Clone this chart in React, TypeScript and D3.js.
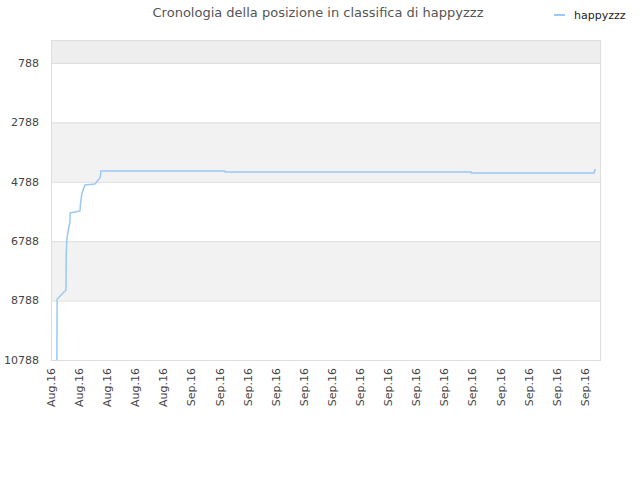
import * as d3 from 'd3'

const title = 'Cronologia della posizione in classifica di happyzzz'
const seriesName = 'happyzzz'

const times = [
  '2016-08-22T10:00', '2016-08-22T10:30', '2016-08-23T01:40', '2016-08-23T02:00',
  '2016-08-23T03:00', '2016-08-23T05:00', '2016-08-23T08:20', '2016-08-23T08:40',
  '2016-08-23T17:00', '2016-08-24T01:30', '2016-08-24T02:30', '2016-08-24T05:00',
  '2016-08-24T10:00', '2016-08-25T03:00', '2016-08-25T11:40', '2016-08-25T13:20',
  '2016-09-03T09:00', '2016-09-03T09:20', '2016-09-20T21:30', '2016-09-20T21:50',
  '2016-09-29T15:30', '2016-09-29T17:10',
]
const ranks = [
  10788, 8734, 8431, 7253, 6748, 6478, 6142, 5838, 5805, 5771, 5500, 5165,
  4896, 4862, 4660, 4424, 4424, 4458, 4458, 4492, 4492, 4357,
]
const yTicks = [788, 2788, 4788, 6788, 8788, 10788]

const width = 640
const height = 480
const margin = { top: 40, right: 40, bottom: 120, left: 51 }
const font = 'DejaVu Sans, sans-serif'

export default function App() {
  const parse = d3.timeParse('%Y-%m-%dT%H:%M')
  const data = times.map((t, i) => ({ t: parse(t) as Date, r: ranks[i] }))

  const x = d3
    .scaleTime()
    .domain([new Date(2016, 7, 22), new Date(2016, 8, 30, 1, 30)])
    .range([margin.left, width - margin.right])
  const y = d3
    .scaleLinear()
    .domain([10788, 14])
    .range([height - margin.bottom, margin.top])

  const xTicks = d3.range(20).map((i) => d3.timeDay.offset(new Date(2016, 7, 22), i * 2))
  const fmt = d3.timeFormat('%b.%y')

  // bands between grid lines, shaded every other one
  const bandEdges = [14, ...yTicks]
  const bands = bandEdges.slice(0, -1).map((a, i) => ({ a, b: bandEdges[i + 1], i }))

  const line = d3
    .line<{ t: Date; r: number }>()
    .x((d) => x(d.t))
    .y((d) => y(d.r))

  const [x0, x1] = x.range()
  const [yb, yt] = y.range()

  return (
    <svg
      width={width}
      height={height}
      style={{ position: 'absolute', left: 0, top: 0, fontFamily: font }}
    >
      <rect width={width} height={height} fill="#fff" />
      <text x={318} y={17} textAnchor="middle" fontSize={13} fill="#555">
        {title}
      </text>

      {/* legend */}
      <line x1={554} x2={565} y1={15} y2={15} stroke="#99c9f5" strokeWidth={2} />
      <text x={574} y={19} fontSize={11} fill="#222">
        {seriesName}
      </text>

      {bands
        .filter((d) => d.i % 2 === 0)
        .map((d) => (
          <rect
            key={d.a}
            x={x0}
            y={y(d.a)}
            width={x1 - x0}
            height={y(d.b) - y(d.a)}
            fill={d.i === 0 ? '#eeeeee' : '#f2f2f2'}
          />
        ))}

      {yTicks.map((v) => (
        <g key={v}>
          <line x1={x0} x2={x1} y1={y(v) + 0.5} y2={y(v) + 0.5} stroke="#dddddd" />
          <text
            x={x0 - 12}
            y={y(v)}
            dy="0.35em"
            textAnchor="end"
            fontSize={11}
            fill="#444"
          >
            {v}
          </text>
        </g>
      ))}

      <rect
        x={x0 + 0.5}
        y={yt + 0.5}
        width={x1 - x0}
        height={yb - yt}
        fill="none"
        stroke="#dddddd"
      />

      <path d={line(data) ?? ''} fill="none" stroke="#99c9f5" strokeWidth={1.5} />

      {xTicks.map((t, i) => (
        <text
          key={i}
          transform={`translate(${x(t)},${yb + 8}) rotate(-90)`}
          dy="0.35em"
          textAnchor="end"
          fontSize={11}
          fill="#444"
        >
          {fmt(t)}
        </text>
      ))}
    </svg>
  )
}
